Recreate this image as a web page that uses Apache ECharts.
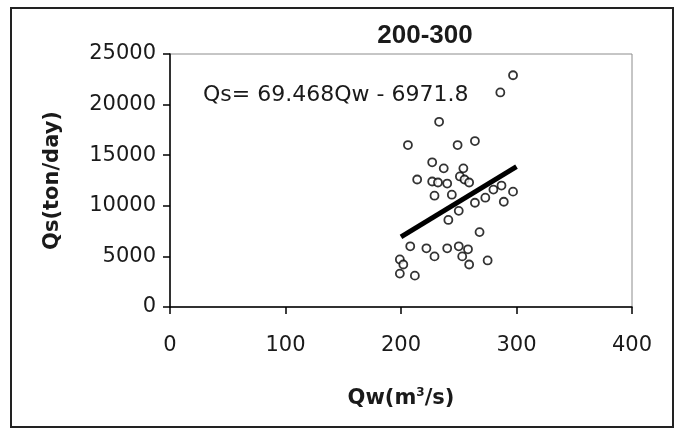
<!DOCTYPE html>
<html>
<head>
<meta charset="utf-8">
<script src="https://cdn.jsdelivr.net/npm/echarts@6/dist/echarts.min.js"></script>
<style>
  html, body { margin: 0; padding: 0; background: #fff; }
  #main { width: 682px; height: 429px; }
</style>
</head>
<body>
<div id="main"></div>
<script>
// Qw (m3/s) / Qs (ton/day) pairs
var qw = [297, 286, 233, 264, 206, 249, 227, 237, 254, 214,
          227, 232, 240, 251, 255, 259, 229, 244, 264, 273,
          280, 287, 289, 297, 250, 241, 268, 208, 222, 229,
          240, 250, 258, 253, 259, 275, 199, 202, 199, 212];
var qs = [22900, 21200, 18300, 16400, 16000, 16000, 14300, 13700, 13700, 12600,
          12400, 12300, 12200, 12900, 12600, 12300, 11000, 11100, 10300, 10800,
          11600, 12000, 10400, 11400, 9500, 8600, 7400, 6000, 5800, 5000,
          5800, 6000, 5700, 5000, 4200, 4600, 4700, 4200, 3300, 3100];

// trend line ends (Qs = 69.468Qw - 6971.8)
var trendQw = [200, 300];
var trendQs = [6922, 13869];

var equation = 'Qs= 69.468Qw - 6971.8';
var xTicks = [0, 100, 200, 300, 400];
var yTicks = [0, 5000, 10000, 15000, 20000, 25000];

var pts = [];
for (var i = 0; i < qw.length; i++) pts.push([qw[i], qs[i]]);
var trend = [];
for (var j = 0; j < trendQw.length; j++) trend.push([trendQw[j], trendQs[j]]);

var font = 'DejaVu Sans';
var myChart = echarts.init(document.getElementById('main'));
myChart.setOption({
  animation: false,
  backgroundColor: '#fff',
  title: {
    text: '200-300',
    left: 420,
    top: 18,
    textAlign: 'center',
    textStyle: { fontFamily: 'Liberation Sans', fontSize: 26, fontWeight: 'bold', color: '#1a1a1a' }
  },
  grid: {
    left: 170, right: 50, top: 54, bottom: 122,
    show: true, borderColor: '#8c8c8c', borderWidth: 1, backgroundColor: '#fff'
  },
  xAxis: {
    type: 'value',
    min: xTicks[0], max: xTicks[xTicks.length - 1], interval: 100,
    name: 'Qw(m{sup|3}/s)',
    nameLocation: 'middle',
    nameGap: 80,
    nameTextStyle: {
      fontFamily: font, fontSize: 21, fontWeight: 'bold', color: '#1a1a1a',
      rich: { sup: { fontFamily: font, fontSize: 12, fontWeight: 'bold', verticalAlign: 'top', padding: [0, 0, 12, 0] } }
    },
    splitLine: { show: false },
    axisLine: { lineStyle: { color: '#000', width: 1.5 } },
    axisTick: { length: 7, lineStyle: { color: '#000', width: 1.5 } },
    axisLabel: { margin: 28, fontFamily: font, fontSize: 21, color: '#1a1a1a' }
  },
  yAxis: {
    type: 'value',
    min: yTicks[0], max: yTicks[yTicks.length - 1], interval: 5000,
    name: 'Qs(ton/day)',
    nameLocation: 'middle',
    nameGap: 107,
    nameTextStyle: { fontFamily: font, fontSize: 21, fontWeight: 'bold', color: '#1a1a1a' },
    splitLine: { show: false },
    axisLine: { show: true, lineStyle: { color: '#000', width: 1.5 } },
    axisTick: { show: true, length: 7, lineStyle: { color: '#000', width: 1.5 } },
    axisLabel: {
      margin: 14, fontFamily: font, fontSize: 21, color: '#1a1a1a',
      formatter: function (v) { return String(v); }
    }
  },
  series: [
    {
      type: 'scatter',
      data: pts,
      symbol: 'circle',
      symbolSize: 8,
      itemStyle: { color: '#fff', borderColor: '#000', borderWidth: 1.8 },
      z: 2
    },
    {
      type: 'line',
      data: trend,
      symbol: 'none',
      lineStyle: { color: '#000', width: 5 },
      z: 3
    }
  ],
  graphic: [
    {
      type: 'text',
      left: 203,
      top: 84,
      style: { text: equation, fontFamily: font, fontSize: 22, fill: '#1a1a1a' }
    },
    {
      type: 'rect',
      shape: { x: 11, y: 8, width: 662, height: 419 },
      style: { fill: 'none', stroke: '#222', lineWidth: 2 },
      z: 10
    }
  ]
});
</script>
</body>
</html>
